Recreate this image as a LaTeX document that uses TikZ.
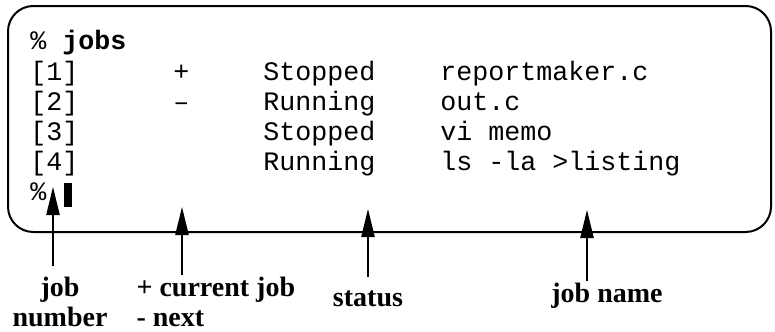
\documentclass[tikz,border=0pt]{standalone}
\usepackage{fontspec}
\setmainfont{Liberation Serif}
\newfontfamily\termfont{Liberation Mono}
\usetikzlibrary{arrows.meta}

\begin{document}
\begin{tikzpicture}[
  x=0.75pt, y=-0.75pt,
  term/.style={anchor=base west,inner sep=0pt,font=\termfont\fontsize{20}{24}\selectfont},
  lbl/.style={inner sep=1pt,font=\bfseries\fontsize{21}{23}\selectfont},
  pointer/.style={-{Triangle[length=21pt,width=10pt]},line width=1pt}
]
\useasboundingbox (0,0) rectangle (775,332);

% the terminal window
\draw[line width=1.5pt,rounded corners=19pt] (8,6) rectangle (771,232);

% command and its output
\node[term] (cmd) at (30,50) {\% \textbf{jobs}};
\node[term] (n1) at (30,80) {[1]};
\node[term] (c1) at (173,80) {+};
\node[term] (s1) at (263,80) {Stopped};
\node[term] (j1) at (440,80) {reportmaker.c};
\node[term] (n2) at (30,110) {[2]};
\node[term] (c2) at (173,110) {–};
\node[term] (s2) at (263,110) {Running};
\node[term] (j2) at (440,110) {out.c};
\node[term] (n3) at (30,140) {[3]};
\node[term] (s3) at (263,140) {Stopped};
\node[term] (j3) at (440,140) {vi memo};
\node[term] (n4) at (30,170) {[4]};
\node[term] (s4) at (263,170) {Running};
\node[term] (j4) at (440,170) {ls -la >listing};
\node[term] (prompt) at (30,200) {\%};
\node[fill=black,inner sep=0pt,minimum width=6pt,minimum height=18pt] (cursor) at (68,195) {};

% callouts
\coordinate (tipnum) at (53,187);
\coordinate (tipcur) at (182,207);
\coordinate (tipstat) at (368,209);
\coordinate (tipname) at (587,210);

\node[lbl,align=center,anchor=north] (lnum) at (60,275) {job\\number};
\node[lbl,align=left,anchor=north west] (lcur) at (135,275) {+ current job\\- next};
\node[lbl,anchor=base] (lstat) at (368,306) {status};
\node[lbl,anchor=base] (lname) at (607,302) {job name};

\draw[pointer,shorten <=7pt] (lnum.north -| tipnum) -- (tipnum);
\draw[pointer] (lcur.north -| tipcur) -- (tipcur);
\draw[pointer,shorten <=9pt] (lstat.north -| tipstat) -- (tipstat);
\draw[pointer] (lname.north -| tipname) -- (tipname);
\end{tikzpicture}
\end{document}
